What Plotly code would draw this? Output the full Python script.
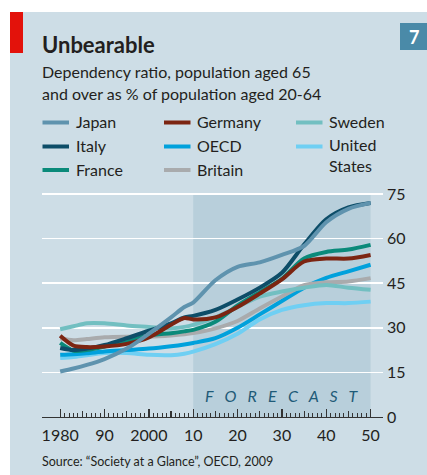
import plotly.graph_objects as go

W, H = 427, 475

# ---------------- data ----------------
years = [1980, 1983, 1986, 1990, 1995, 2000, 2005, 2008, 2010, 2015, 2020,
         2025, 2030, 2035, 2040, 2045, 2050]
japan = [15.3, 16.3, 17.5, 19.5, 23.0, 28.0, 33.5, 37.0, 38.5, 46.0, 50.5,
         52.0, 54.5, 57.5, 65.5, 70.0, 72.0]
italy = [23.2, 22.5, 23.0, 24.2, 26.5, 29.0, 31.5, 33.5, 34.0, 36.0, 39.5,
         43.5, 48.5, 58.0, 66.5, 70.5, 72.0]
france = [24.9, 22.3, 22.5, 23.7, 25.5, 27.4, 28.2, 28.8, 29.3, 32.0, 37.5,
          42.0, 46.5, 53.3, 55.5, 56.3, 57.9]
germany = [27.3, 24.0, 23.5, 23.7, 24.6, 26.8, 31.0, 33.3, 32.8, 33.5, 37.0,
           41.5, 46.3, 52.3, 53.3, 53.3, 54.5]
oecd = [20.9, 21.1, 21.4, 22.0, 22.5, 23.0, 23.8, 24.4, 24.9, 26.5, 30.0,
        34.5, 39.0, 43.5, 46.8, 49.0, 51.2]
britain = [26.5, 25.8, 26.2, 26.8, 27.0, 27.0, 27.4, 27.8, 28.2, 29.8, 32.3,
           36.5, 40.5, 44.3, 45.3, 45.6, 46.7]
sweden = [29.5, 30.5, 31.5, 31.5, 30.8, 30.3, 29.8, 30.3, 31.0, 33.5, 37.0,
          40.5, 42.2, 43.5, 44.4, 43.5, 42.8]
united_states = [19.8, 20.2, 20.8, 21.5, 21.5, 20.9, 20.8, 21.3, 22.0, 24.5,
                 28.0, 32.8, 36.0, 37.6, 38.3, 38.3, 38.8]

x_tick_vals = [1980, 1990, 2000, 2010, 2020, 2030, 2040, 2050]
x_tick_text = ["1980", "90", "2000", "10", "20", "30", "40", "50"]
y_tick_vals = [0, 15, 30, 45, 60, 75]
forecast_start, forecast_end = 2010, 2050

names = ["Japan", "Germany", "Sweden", "Italy", "OECD", "United<br>States",
         "France", "Britain"]
series = [japan, germany, sweden, italy, oecd, united_states, france, britain]
colors = ["#5f93ae", "#7c2512", "#72bfc1", "#0d4d68", "#00a1dc", "#6fcff3",
          "#0a8a7a", "#a9abad"]
draw_order = [5, 4, 7, 2, 6, 3, 1, 0]  # indices into names

# ---------------- styling ----------------
FONT = "Lato"
TXT = "#231f20"
PANEL = "#cddde6"
SHADE = "#b8cfdb"


def px(x):
    return x / W


def py(y):
    return 1 - y / H


fig = go.Figure()
for i in draw_order:
    fig.add_trace(go.Scatter(
        x=years, y=series[i], mode="lines",
        line=dict(color=colors[i], width=4, shape="spline", smoothing=0.8),
        name=names[i].replace("<br>", " "), showlegend=False,
        hoverinfo="skip"))

# invisible trace on overlay axis for medium ticks
fig.add_trace(go.Scatter(x=[forecast_start], y=[0], xaxis="x2", mode="markers",
                         marker=dict(opacity=0), showlegend=False,
                         hoverinfo="skip"))

x_left_px, x_right_px = 42, 383
y_bot_px, y_top_px = 417, 192.5
x_range = [1975.9, 2052.8]
y_range = [0, 75.5]

shapes = []
annotations = []
# panel background
shapes.append(dict(type="rect", xref="paper", yref="paper",
                   x0=px(10), x1=1, y0=0, y1=py(12),
                   fillcolor=PANEL, line=dict(width=0), layer="below"))
# red tag
shapes.append(dict(type="rect", xref="paper", yref="paper",
                   x0=px(10), x1=px(23), y0=py(53), y1=py(12),
                   fillcolor="#e3120b", line=dict(width=0), layer="above"))
# number box
shapes.append(dict(type="rect", xref="paper", yref="paper",
                   x0=px(400), x1=1, y0=py(50), y1=py(23),
                   fillcolor="#4a8aa8", line=dict(width=0), layer="above"))
annotations.append(dict(x=px(413.5), y=py(37), xref="paper", yref="paper",
                        text="<b>7</b>", showarrow=False,
                        font=dict(family=FONT, size=18, color="white"),
                        xanchor="center", yanchor="middle"))
# forecast shading
shapes.append(dict(type="rect", xref="x", yref="y",
                   x0=forecast_start, x1=forecast_end, y0=0, y1=75,
                   fillcolor=SHADE, line=dict(width=0), layer="below"))

# titles
annotations.append(dict(x=px(40), y=py(45), xref="paper", yref="paper",
                        text="<b>Unbearable</b>", showarrow=False,
                        font=dict(family=FONT, size=22, color=TXT),
                        xanchor="left", yanchor="middle"))
annotations.append(dict(x=px(40), y=py(71), xref="paper", yref="paper",
                        text="Dependency ratio, population aged 65",
                        showarrow=False,
                        font=dict(family=FONT, size=16, color=TXT),
                        xanchor="left", yanchor="middle"))
annotations.append(dict(x=px(40), y=py(93), xref="paper", yref="paper",
                        text="and over as % of population aged 20-64",
                        showarrow=False,
                        font=dict(family=FONT, size=16, color=TXT),
                        xanchor="left", yanchor="middle"))

# legend
col_x = [42.5, 164, 296]
row_y = [122.5, 146.5, 170]
for k, (nm, col) in enumerate(zip(names, colors)):
    c, r = k % 3, k // 3
    x0 = col_x[c]
    yy = row_y[r]
    shapes.append(dict(type="line", xref="paper", yref="paper",
                       x0=px(x0), x1=px(x0 + 26.5), y0=py(yy), y1=py(yy),
                       line=dict(color=col, width=4)))
    if "<br>" in nm:
        annotations.append(dict(x=px(x0 + 31), y=py(yy - 13.5), xref="paper",
                                yref="paper", text=nm, showarrow=False,
                                align="left",
                                font=dict(family=FONT, size=16, color=TXT),
                                xanchor="left", yanchor="top"))
    else:
        annotations.append(dict(x=px(x0 + 31), y=py(yy - 1), xref="paper",
                                yref="paper", text=nm, showarrow=False,
                                font=dict(family=FONT, size=16, color=TXT),
                                xanchor="left", yanchor="middle"))

# forecast label
sp = "\u00a0\u00a0\u00a0"
annotations.append(dict(x=2030, y=7.4, xref="x", yref="y",
                        text="<i>" + sp.join("FORECAST") + "</i>",
                        showarrow=False,
                        font=dict(family=FONT, size=16, color="#1f5b78"),
                        xanchor="center", yanchor="middle"))

# source
annotations.append(dict(x=px(40), y=py(461), xref="paper", yref="paper",
                        text="Source: \u201cSociety at a Glance\u201d, OECD, 2009",
                        showarrow=False,
                        font=dict(family=FONT, size=12.5, color=TXT),
                        xanchor="left", yanchor="middle"))

minor_years = [y for y in range(1980, 2051) if y % 5 != 0]
mid_years = [y for y in range(1985, 2050, 10)]

fig.update_layout(
    width=W, height=H, autosize=False,
    margin=dict(l=0, r=0, t=0, b=0, pad=0),
    paper_bgcolor="white", plot_bgcolor="rgba(0,0,0,0)",
    shapes=shapes, annotations=annotations,
    font=dict(family=FONT, color=TXT),
    xaxis=dict(domain=[px(x_left_px), px(x_right_px)], range=x_range,
               tickmode="array", tickvals=x_tick_vals, ticktext=x_tick_text,
               ticks="inside", ticklen=8, tickwidth=1.3, tickcolor="#333333",
               showgrid=False, zeroline=False, showline=True,
               linecolor="#333333", linewidth=1.4, automargin=False,
               tickfont=dict(family=FONT, size=16, color=TXT),
               ticklabelstandoff=3,
               minor=dict(tickmode="array", tickvals=minor_years,
                          ticks="inside", ticklen=4, tickwidth=1,
                          tickcolor="#333333", showgrid=False)),
    xaxis2=dict(domain=[px(x_left_px), px(x_right_px)], range=x_range,
                overlaying="x", anchor="y", side="bottom",
                tickmode="array", tickvals=mid_years, ticks="inside",
                ticklen=6, tickwidth=1.1, tickcolor="#333333",
                showticklabels=False, showgrid=False, zeroline=False,
                showline=False, automargin=False),
    yaxis=dict(domain=[py(y_bot_px), py(y_top_px)], range=y_range,
               side="right", tickmode="array", tickvals=y_tick_vals,
               ticks="", showgrid=True, gridcolor="white", gridwidth=1.7,
               zeroline=False, showline=False, automargin=False,
               tickfont=dict(family=FONT, size=16, color=TXT),
               ticklabelstandoff=3),
)

fig.write_html("out.html",
               config={"displayModeBar": False, "staticPlot": True},
               post_script="document.body.style.margin='0';"
                           "document.body.style.overflow='hidden';")
